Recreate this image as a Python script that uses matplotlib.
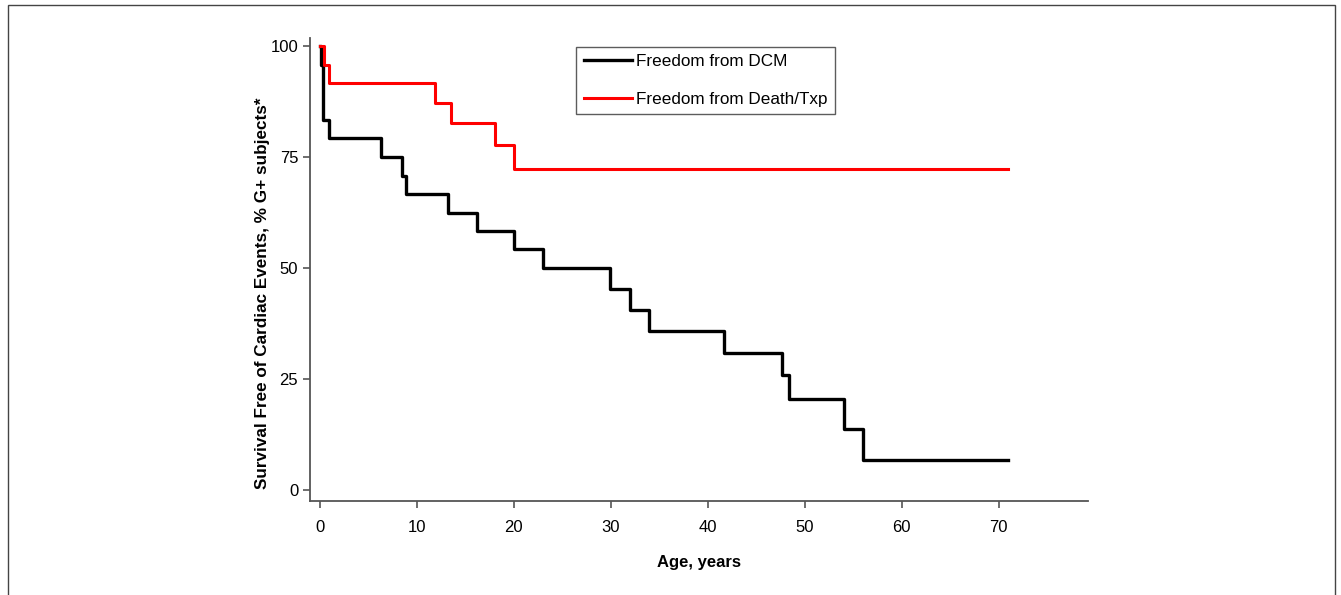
import matplotlib
matplotlib.use("Agg")
import matplotlib.pyplot as plt
from matplotlib.patches import Rectangle

plt.rcParams['font.family'] = ['Liberation Sans', 'DejaVu Sans']

# Kaplan-Meier steps (age in years, % event free)
dcm_age = [0, 0.1, 0.35, 1.0, 6.3, 8.5, 8.9, 13.2, 16.2, 20.0, 23.0, 29.9, 32.0, 34.0,
           41.7, 47.7, 48.4, 54.1, 56.0, 71.0]
dcm_surv = [100, 95.8, 83.3, 79.2, 75.0, 70.8, 66.7, 62.5, 58.3, 54.2, 50.0, 45.3, 40.6,
            35.9, 30.9, 25.8, 20.4, 13.7, 6.7, 6.7]

death_age = [0, 0.4, 1.0, 11.9, 13.5, 18.1, 20.0, 71.0]
death_surv = [100, 95.8, 91.7, 87.2, 82.6, 77.8, 72.4, 72.4]

x_ticks = [0, 10, 20, 30, 40, 50, 60, 70]
y_ticks = [0, 25, 50, 75, 100]

fig = plt.figure(figsize=(13.41, 5.95), dpi=100)
ax = fig.add_axes([0.2312, 0.158, 0.58, 0.778])

ax.step(dcm_age, dcm_surv, where='post', color='black', lw=2.4, label='Freedom from DCM')
ax.step(death_age, death_surv, where='post', color='#ff0000', lw=2.2,
        label='Freedom from Death/Txp')

ax.set_xlim(-1, 79.2)
ax.set_ylim(-2.5, 101.8)
ax.set_xticks(x_ticks)
ax.set_yticks(y_ticks)
ax.tick_params(axis='both', labelsize=12, length=5, width=1.2, color='#555555')
ax.tick_params(axis='x', pad=9)
for side in ['top', 'right']:
    ax.spines[side].set_visible(False)
for side in ['left', 'bottom']:
    ax.spines[side].set_color('#555555')
    ax.spines[side].set_linewidth(1.3)

ax.set_xlabel('Age, years', fontsize=12, fontweight='bold', labelpad=14)
ax.set_ylabel('Survival Free of Cardiac Events, % G+ subjects*', fontsize=12.3,
              fontweight='bold')
ax.yaxis.set_label_coords(-0.051, 0.449)

leg = ax.legend(loc='upper left', bbox_to_anchor=(0.331, 1.0), fontsize=12.3,
                frameon=True, fancybox=False, edgecolor='#333333', borderpad=0.45,
                handlelength=2.8, labelspacing=1.3, handletextpad=0.25)
leg.get_frame().set_linewidth(1.0)

fig.patches.append(Rectangle((8 / 1341, -0.05), 1327 / 1341, 1.05 - 5 / 595,
                             transform=fig.transFigure, fill=False,
                             edgecolor='#444444', lw=1.0))

fig.savefig('out.png', dpi=100)
